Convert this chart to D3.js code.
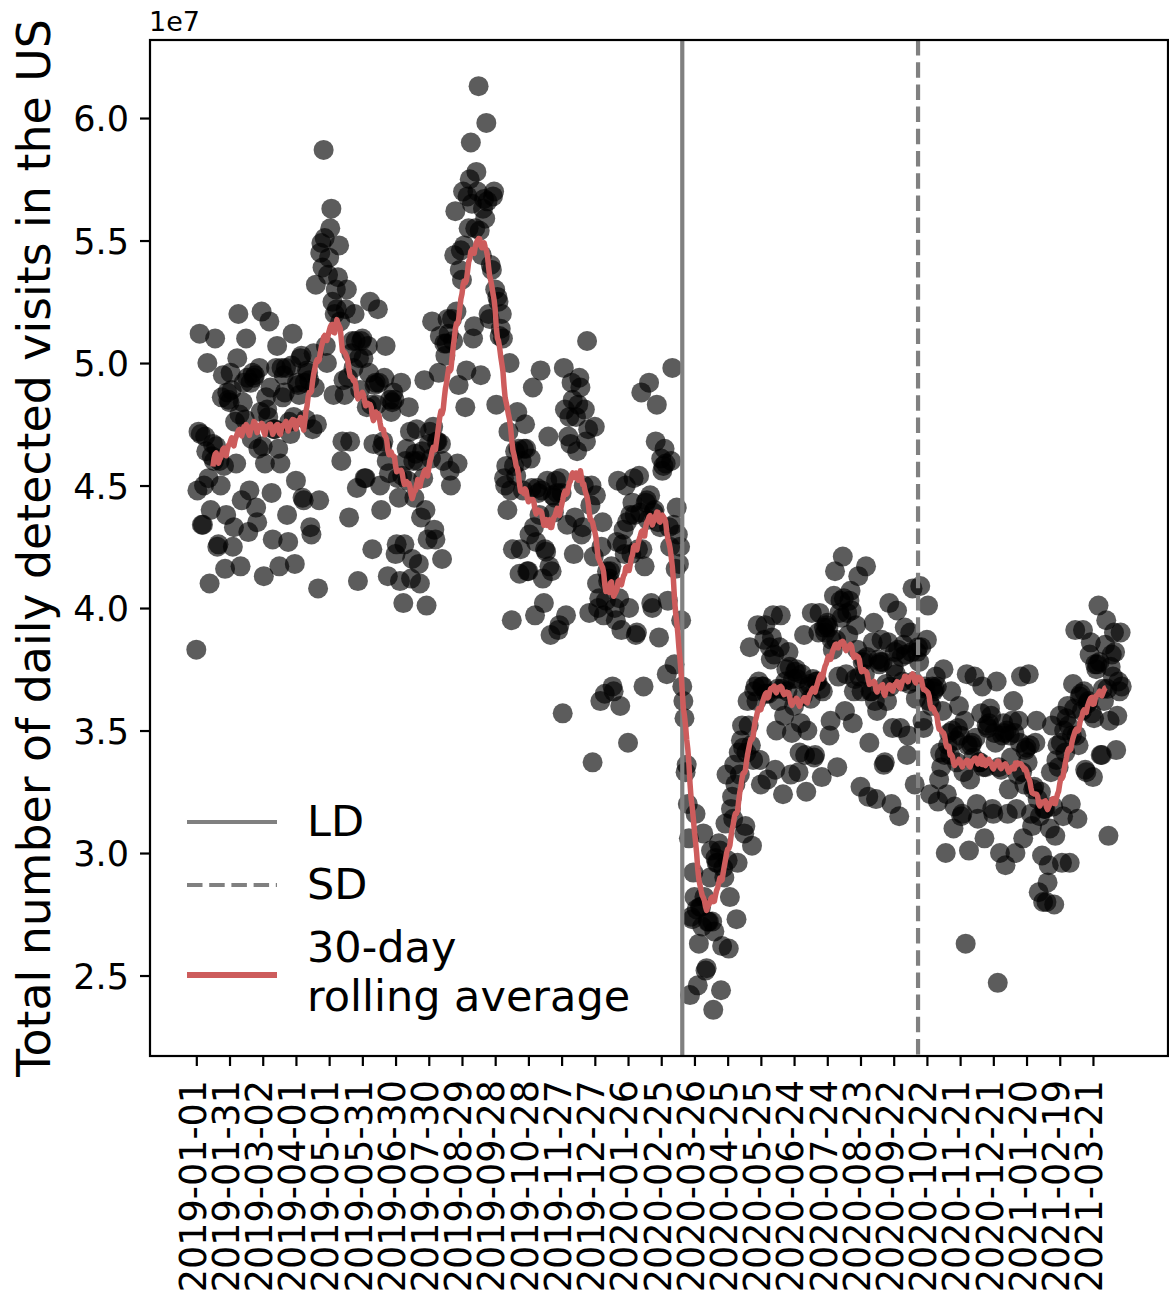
<!DOCTYPE html>
<html>
<head>
<meta charset="utf-8">
<script src="https://cdn.jsdelivr.net/npm/d3@7"></script>
<style>
body { margin: 0; background: #fff; }
</style>
</head>
<body>
<svg id="chart" width="1169" height="1293"></svg>
<script>
// daily detected visits (units of 1e7), one value per day from 2019-01-01
var visits2019 = [
3.83,4.48,4.72,5.12,4.71,4.34,4.34,
4.50,4.70,4.64,5.00,4.53,4.10,4.40,
4.62,4.67,4.60,5.10,4.66,4.25,4.26,
4.60,4.50,4.86,4.95,4.58,4.16,4.38,
4.88,4.85,4.84,4.96,4.89,4.25,4.33,
4.76,4.59,5.02,5.20,4.79,4.17,4.44,
4.84,4.92,4.77,5.10,4.94,4.31,4.48,
4.92,4.69,4.96,4.94,4.95,4.41,4.35,
4.65,4.98,4.80,5.21,4.66,4.13,4.59,
4.86,4.81,4.78,5.17,4.90,4.47,4.28,
4.73,4.73,4.98,5.07,4.65,4.17,4.59,
4.98,4.86,4.95,4.88,4.98,4.38,4.27,
4.76,4.71,4.99,5.12,4.78,4.18,4.52,
4.92,4.91,4.87,5.02,5.03,4.45,4.44,
4.92,4.77,4.97,4.96,4.93,4.33,4.30,
4.73,5.04,4.90,5.32,4.75,4.08,4.44,
5.45,5.49,5.39,5.87,5.51,5.07,5.00,
5.36,5.43,5.55,5.63,5.25,4.87,5.20,
5.30,5.22,5.35,5.48,5.17,4.60,4.68,
4.93,4.87,5.22,5.30,4.94,4.37,4.68,
5.04,5.09,4.98,5.20,5.09,4.49,4.11,
5.02,4.89,5.09,5.10,5.02,4.53,4.53,
4.82,5.07,4.96,5.25,4.83,4.24,4.67,
4.91,4.92,4.83,5.22,4.92,4.50,4.40,
4.66,4.68,4.94,5.07,4.60,4.13,4.55,
4.85,4.80,4.84,4.88,4.85,4.22,4.26,
4.53,4.45,4.11,4.92,4.54,4.02,4.26,
4.60,4.65,4.52,4.82,4.72,4.12,4.20,
4.60,4.45,4.63,4.73,4.60,4.18,4.10,
4.37,4.64,4.53,4.93,4.40,4.01,4.28,
4.67,4.72,4.61,5.17,4.74,4.32,4.28,
4.68,4.68,4.96,5.11,4.67,4.20,4.60,
5.08,5.03,5.08,5.18,5.12,4.56,4.50,
5.18,5.09,5.44,5.62,5.21,4.59,4.91,
5.38,5.46,5.34,5.70,5.48,4.82,4.97,
5.68,5.55,5.75,5.90,5.65,5.10,5.15,
5.55,5.78,5.70,6.13,5.54,4.95,5.44,
5.63,5.67,5.59,5.98,5.66,5.20,5.18,
5.40,5.38,5.68,5.70,5.30,4.83,5.27,
5.25,5.11,5.14,5.20,5.10,4.53,4.50,
4.58,4.40,4.72,5.00,4.48,3.95,4.24,
4.58,4.64,4.54,4.80,4.65,4.14,4.24,
4.60,4.48,4.65,4.75,4.65,4.15,4.15,
4.30,4.61,4.49,4.90,4.33,3.97,4.27,
4.49,4.47,4.38,4.97,4.48,4.12,4.02,
4.24,4.23,4.52,4.70,4.17,3.89,4.15,
4.46,4.39,4.45,4.52,4.47,3.91,3.93,
4.53,4.47,3.57,4.98,4.81,3.97,4.34,
4.70,4.78,4.67,4.92,4.85,4.22,4.37,
4.78,4.64,4.83,4.94,4.90,4.30,4.33,
4.50,4.81,4.68,5.09,4.73,3.98,4.42,
4.50,3.37,4.21,4.74,4.46,4.10,4.00,
4.04
];
var visits2020 = [
3.62,4.25,4.35,3.97,3.65,4.03,
4.15,4.11,4.12,4.15,4.17,3.68,3.66,
4.00,3.95,4.27,4.52,4.04,3.60,3.91,
4.26,4.32,4.22,4.50,4.35,3.45,4.00,
4.38,4.22,4.43,4.53,4.38,3.89,3.90,
4.24,4.54,4.39,4.88,4.24,3.68,4.17,
4.43,4.44,4.36,4.92,4.46,4.02,4.00,
4.39,4.40,4.68,4.83,4.35,3.88,4.33,
4.61,4.56,4.58,4.65,4.59,3.73,4.03,
4.33,4.25,4.60,4.98,4.34,3.77,4.16,
4.41,4.30,4.18,4.25,3.95,3.68,3.62,
3.55,3.33,3.36,3.20,3.06,2.42,2.74,
2.73,2.92,2.82,3.16,2.77,2.46,2.63,
2.78,2.78,2.70,3.08,2.82,2.52,2.53,
2.72,2.72,2.90,3.01,2.72,2.36,2.68,
2.98,2.96,2.96,3.04,3.01,2.44,2.62,
2.94,2.90,3.12,3.32,2.97,2.61,2.82,
3.18,3.23,3.14,3.36,3.28,2.73,2.96,
3.41,3.32,3.46,3.52,3.43,3.08,3.11,
3.41,3.62,3.52,3.84,3.44,3.03,3.38,
3.66,3.68,3.62,3.93,3.70,3.38,3.28,
3.68,3.68,3.87,3.93,3.65,3.30,3.65,
3.84,3.79,3.88,3.97,3.81,3.34,3.50,
3.67,3.62,3.84,3.97,3.67,3.24,3.56,
3.70,3.75,3.66,3.82,3.76,3.32,3.49,
3.71,3.60,3.74,3.75,3.71,3.33,3.41,
3.53,3.73,3.64,3.89,3.40,3.25,3.50,
3.68,3.69,3.63,3.98,3.71,3.39,3.40,
3.70,3.70,3.90,3.98,3.67,3.31,3.66,
3.92,3.90,3.93,3.94,3.92,3.48,3.54,
3.87,3.83,4.05,4.15,3.87,3.35,3.72,
3.98,4.03,3.96,4.21,4.04,3.58,3.73,
3.98,3.89,4.03,4.07,3.99,3.53,3.66,
3.71,3.93,3.83,4.13,3.72,3.27,3.66,
3.78,3.79,3.73,4.17,3.80,3.23,3.45,
3.66,3.66,3.86,3.94,3.62,3.22,3.58,
3.79,3.77,3.78,3.87,3.78,3.36,3.37,
3.69,3.62,3.86,4.02,3.68,3.20,3.51,
3.76,3.82,3.73,3.99,3.83,3.15,3.51,
3.80,3.70,3.85,3.92,3.81,3.40,3.48,
3.69,3.90,3.82,4.08,3.70,3.28,3.63,
3.82,3.84,3.78,4.09,3.84,3.54,3.51,
3.68,3.67,3.87,4.01,3.62,3.24,3.60,
3.68,3.66,3.67,3.72,3.68,3.21,3.30,
3.41,3.35,3.58,3.75,3.40,3.00,3.24,
3.44,3.49,3.40,3.66,3.50,3.10,3.19,
3.46,3.37,3.51,3.60,3.48,3.15,3.16,
3.33,3.54,2.63,3.73,3.44,3.01,3.30,
3.44,3.45,3.39,3.72,3.47,3.20,3.14,
3.37,3.37,3.57,3.68,3.35,3.06,3.35,
3.52,3.51,3.53,3.59,3.56,3.18,3.16,
3.49,3.45,3.70,2.47,3.35,3.00,3.34,
3.48,3.53,3.49
];
var visits2021 = [
2.95,3.50,3.16,3.26,
3.48,3.39,3.54,3.62,3.49,3.00,3.18,
3.32,3.54,3.45,3.72,3.33,3.06,3.28,
3.42,3.43,3.37,3.73,3.44,3.16,3.11,
3.26,3.27,3.45,3.54,3.22,2.84,3.15,
3.25,2.99,2.80,3.18,3.18,2.80,2.88,
2.95,3.10,3.33,3.52,3.19,2.79,3.07,
3.38,3.44,3.35,3.56,3.45,2.96,3.15,
3.50,3.41,3.55,3.60,3.52,2.96,3.20,
3.48,3.69,3.59,3.91,3.48,3.14,3.44,
3.64,3.65,3.58,3.91,3.66,3.34,3.33,
3.61,3.62,3.81,3.86,3.57,3.31,3.55,
3.77,3.75,3.77,4.01,3.78,3.40,3.40,
3.67,3.62,3.85,3.95,3.67,3.07,3.54,
3.76,3.81,3.72,3.90,3.82,3.42,3.56,
3.70,3.66,3.90,3.68
];
var startDate = "2019-01-01";
var tickEvery = 30;          // days between x tick labels
var yTicks = [2.5, 3.0, 3.5, 4.0, 4.5, 5.0, 5.5, 6.0];
var eventNames = ["LD", "SD"];
var eventDates = ["2020-03-15", "2020-10-14"];
var rollingWindow = 30;
var rollingLabel = ["30-day", "rolling average"];
var yLabel = "Total number of daily detected visits in the US";

var margin = { top: 40, right: 1, bottom: 237, left: 150 },
    width = 1169 - margin.left - margin.right,
    height = 1293 - margin.top - margin.bottom;

var parseDate = d3.utcParse("%Y-%m-%d");
var fmt = d3.utcFormat("%Y-%m-%d");
var t0 = parseDate(startDate);

var values = visits2019.concat(visits2020, visits2021);
var data = values.map(function (v, i) {
    return { date: d3.utcDay.offset(t0, i), value: v };
});

// centered rolling mean, like pandas rolling(30, center=True)
var half = Math.floor(rollingWindow / 2);
var rolling = [];
for (var i = half; i + rollingWindow - half - 1 < values.length; i++) {
    var s = d3.sum(values.slice(i - half, i - half + rollingWindow));
    rolling.push({ date: data[i].date, value: s / rollingWindow });
}

// scales with matplotlib style 5% margins
var n = values.length - 1;
var x = d3.scaleUtc()
    .domain([d3.utcHour.offset(t0, -24 * n * 0.05), d3.utcHour.offset(t0, 24 * n * 1.05)])
    .range([0, width]);
var ext = d3.extent(values), pad = (ext[1] - ext[0]) * 0.05;
var y = d3.scaleLinear().domain([ext[0] - pad, ext[1] + pad]).range([height, 0]);

var svg = d3.select("#chart");
var g = svg.append("g").attr("transform", "translate(" + margin.left + "," + margin.top + ")");

// points
g.append("g").selectAll("circle")
    .data(data)
    .enter().append("circle")
    .attr("cx", function (d) { return x(d.date); })
    .attr("cy", function (d) { return y(d.value); })
    .attr("r", 10)
    .attr("fill", "#000")
    .attr("fill-opacity", 0.64);

// LD / SD vertical lines
eventDates.forEach(function (dt, k) {
    g.append("line")
        .attr("x1", x(parseDate(dt))).attr("x2", x(parseDate(dt)))
        .attr("y1", 0).attr("y2", height)
        .attr("stroke", "#808080")
        .attr("stroke-width", 4.2)
        .attr("stroke-dasharray", k == 1 ? "15.5,6.7" : null);
});

// rolling average
var line = d3.line()
    .x(function (d) { return x(d.date); })
    .y(function (d) { return y(d.value); });
g.append("path")
    .datum(rolling)
    .attr("fill", "none")
    .attr("stroke", "#cd5c5c")
    .attr("stroke-width", 5.5)
    .attr("stroke-linejoin", "round")
    .attr("d", line);

// axes
var tickDates = [];
for (var d = 0; d <= n; d += tickEvery) tickDates.push(d3.utcDay.offset(t0, d));

var xAxis = g.append("g")
    .attr("transform", "translate(0," + height + ")")
    .call(d3.axisBottom(x).tickValues(tickDates).tickFormat(fmt).tickSize(10).tickSizeOuter(0))
    .attr("font-family", "DejaVu Sans")
    .attr("font-size", 36.5);
xAxis.select(".domain").remove();
xAxis.selectAll("line").attr("stroke", "#000").attr("stroke-width", 2.2);
xAxis.selectAll("text")
    .attr("fill", "#000")
    .attr("transform", "rotate(-90)")
    .attr("text-anchor", "end")
    .attr("x", -24)
    .attr("y", 0)
    .attr("dy", "0.24em");

var yAxis = g.append("g")
    .call(d3.axisLeft(y).tickValues(yTicks).tickFormat(d3.format(".1f")).tickSize(10).tickPadding(11).tickSizeOuter(0))
    .attr("font-family", "DejaVu Sans")
    .attr("font-size", 35);
yAxis.select(".domain").remove();
yAxis.selectAll("line").attr("stroke", "#000").attr("stroke-width", 2.2);
yAxis.selectAll("text").attr("fill", "#000").attr("dy", "0.36em");

// frame
g.append("rect")
    .attr("width", width).attr("height", height)
    .attr("fill", "none")
    .attr("stroke", "#000")
    .attr("stroke-width", 2.2);

// offset text and y label
svg.append("text")
    .attr("x", margin.left - 1).attr("y", 31)
    .attr("font-family", "DejaVu Sans").attr("font-size", 27)
    .text("1e7");
svg.append("text")
    .attr("transform", "translate(50," + (margin.top + height / 2) + ") rotate(-90)")
    .attr("text-anchor", "middle")
    .attr("font-family", "DejaVu Sans").attr("font-size", 45.8)
    .text(yLabel);

// legend (no frame)
var leg = svg.append("g").attr("font-family", "DejaVu Sans").attr("font-size", 43);
var rows = [
    { label: [eventNames[0]], y: 822, color: "#808080", w: 4.2, dash: null },
    { label: [eventNames[1]], y: 885, color: "#808080", w: 4.2, dash: "15.5,6.7" },
    { label: rollingLabel, y: 975, color: "#cd5c5c", w: 6, dash: null }
];
rows.forEach(function (r) {
    leg.append("line")
        .attr("x1", 187).attr("x2", 277)
        .attr("y1", r.y).attr("y2", r.y)
        .attr("stroke", r.color)
        .attr("stroke-width", r.w)
        .attr("stroke-dasharray", r.dash);
    if (r.label.length == 1) {
        leg.append("text").attr("x", 307).attr("y", r.y + 14).text(r.label[0]);
    } else {
        leg.append("text").attr("x", 307).attr("y", 962).text(r.label[0]);
        leg.append("text").attr("x", 307).attr("y", 1011).text(r.label[1]);
    }
});
</script>
</body>
</html>
